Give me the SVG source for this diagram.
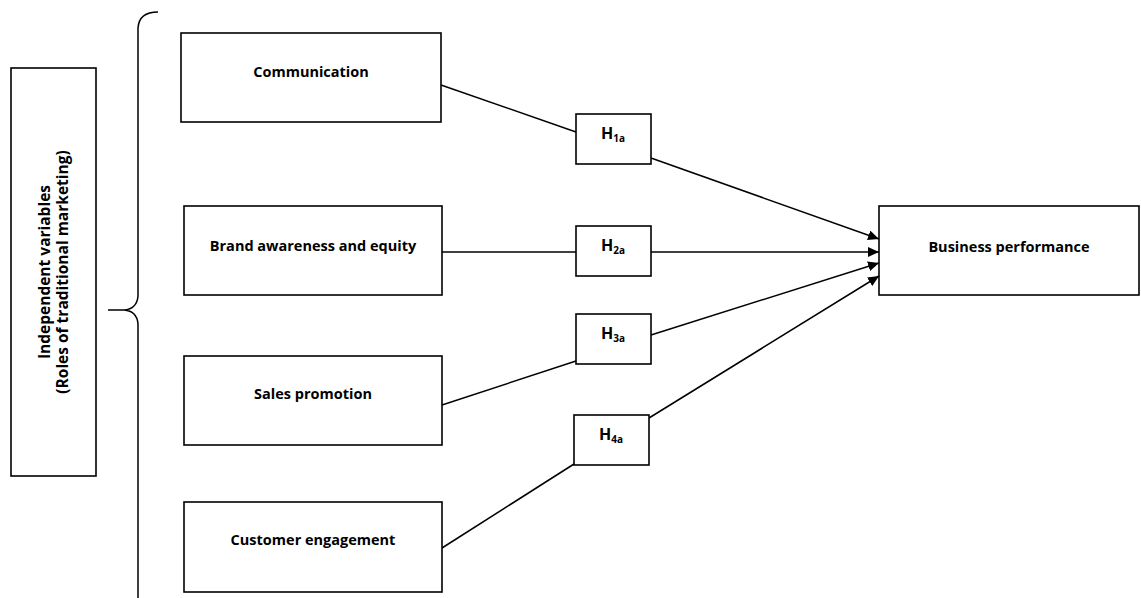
<svg xmlns="http://www.w3.org/2000/svg" width="1141" height="598" viewBox="0 0 1141 598">
<style>
.box{fill:#fff;stroke:#000;stroke-width:1.6}
.lbl{font-family:"Open Sans","Liberation Sans",sans-serif;font-weight:bold;font-size:14.5px;fill:#000;text-anchor:middle}
.hl{font-size:16px}
.sub{font-size:10px}
.side{font-family:"Open Sans","Liberation Sans",sans-serif;font-weight:bold;font-size:15.5px;fill:#000;text-anchor:middle}
.conn{stroke:#000;stroke-width:1.5;fill:none}
</style>
<defs>
<marker id="arr" markerUnits="userSpaceOnUse" markerWidth="12" markerHeight="10" refX="11" refY="5" orient="auto">
<path d="M0,0 L11,5 L0,10 Z" fill="#000"/>
</marker>
</defs>
<rect width="1141" height="598" fill="#fff"/>
<g id="side">
<rect class="box" x="11" y="68" width="85" height="408"/>
<text class="side" transform="translate(53,272) rotate(-90)"><tspan x="0" y="-3">Independent variables</tspan><tspan x="0" y="15">(Roles of traditional marketing)</tspan></text>
</g>
<g id="brace">
<path class="conn" d="M158,12 Q139,12 138,28 L138,296 Q137,309 124,310 L108,310 M124,310 Q137,311 138,324 L138,598" stroke-width="2"/>
</g>
<g id="communication">
<rect class="box" x="181" y="33" width="260" height="89"/>
<text class="lbl" x="311" y="77">Communication</text>
</g>
<g id="brand">
<rect class="box" x="184" y="206" width="258" height="89"/>
<text class="lbl" x="313" y="251">Brand awareness and equity</text>
</g>
<g id="sales">
<rect class="box" x="184" y="356" width="258" height="89"/>
<text class="lbl" x="313" y="399">Sales promotion</text>
</g>
<g id="customer">
<rect class="box" x="184" y="502" width="258" height="90"/>
<text class="lbl" x="313" y="545">Customer engagement</text>
</g>
<g id="business">
<rect class="box" x="879" y="206" width="260" height="89"/>
<text class="lbl" x="1009" y="252">Business performance</text>
</g>
<g id="connectors">
<line class="conn" x1="441" y1="85" x2="576" y2="132"/>
<line class="conn" x1="651" y1="158" x2="879" y2="239" marker-end="url(#arr)"/>
<line class="conn" x1="442" y1="252" x2="576" y2="252"/>
<line class="conn" x1="651" y1="252" x2="879" y2="252" marker-end="url(#arr)"/>
<line class="conn" x1="442" y1="405" x2="576" y2="361"/>
<line class="conn" x1="651" y1="335" x2="879" y2="263" marker-end="url(#arr)"/>
<line class="conn" x1="442" y1="548" x2="574" y2="464"/>
<line class="conn" x1="649" y1="418" x2="879" y2="276" marker-end="url(#arr)"/>
</g>
<g id="h1a">
<rect class="box" x="576" y="114" width="75" height="50"/>
<text class="lbl hl" x="613" y="139">H<tspan class="sub" dy="3">1a</tspan></text>
</g>
<g id="h2a">
<rect class="box" x="576" y="226" width="75" height="50"/>
<text class="lbl hl" x="613" y="251">H<tspan class="sub" dy="3">2a</tspan></text>
</g>
<g id="h3a">
<rect class="box" x="576" y="314" width="75" height="50"/>
<text class="lbl hl" x="613" y="339">H<tspan class="sub" dy="3">3a</tspan></text>
</g>
<g id="h4a">
<rect class="box" x="574" y="415" width="75" height="50"/>
<text class="lbl hl" x="611" y="440">H<tspan class="sub" dy="3">4a</tspan></text>
</g>
</svg>
